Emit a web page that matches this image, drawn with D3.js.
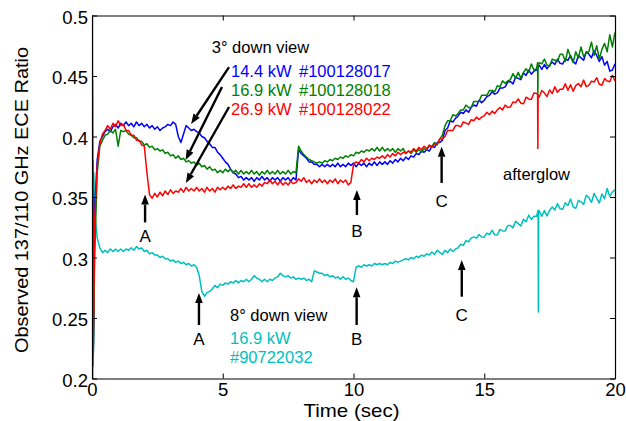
<!DOCTYPE html>
<html>
<head>
<meta charset="utf-8">
<script src="https://cdn.jsdelivr.net/npm/d3@7"></script>
<style>
html,body{margin:0;padding:0;background:#fff;}
svg{display:block;font-family:"Liberation Sans",Arial,Helvetica,sans-serif;}
</style>
</head>
<body>
<svg id="chart" width="626" height="421"></svg>
<script>
// ---------- DATA ----------
// shared time grid: 0.0 .. 20.0 s, every 0.1 s
const times = d3.range(0, 201).map(i => i / 10);

// 14.4 kW #100128017 (blue)
const blueVals = [
0.225,0.340,0.381,0.396,0.400,0.404,0.406,0.404,0.408,0.410,
0.407,0.411,0.409,0.412,0.409,0.411,0.408,0.412,0.409,0.411,
0.408,0.410,0.407,0.409,0.406,0.408,0.405,0.407,0.408,0.410,
0.409,0.412,0.410,0.400,0.395,0.402,0.409,0.407,0.405,0.406,
0.404,0.403,0.400,0.399,0.396,0.394,0.391,0.391,0.387,0.385,
0.382,0.379,0.377,0.373,0.370,0.369,0.366,0.367,0.364,0.366,
0.364,0.366,0.363,0.366,0.364,0.367,0.364,0.366,0.363,0.366,
0.364,0.366,0.363,0.366,0.364,0.366,0.363,0.366,0.364,0.389,
0.386,0.384,0.382,0.379,0.379,0.377,0.377,0.375,0.377,0.375,
0.377,0.375,0.377,0.375,0.378,0.375,0.377,0.375,0.378,0.376,
0.378,0.375,0.378,0.376,0.378,0.375,0.378,0.376,0.379,0.376,
0.379,0.377,0.379,0.377,0.380,0.378,0.381,0.379,0.382,0.380,
0.383,0.381,0.384,0.383,0.386,0.385,0.388,0.387,0.389,0.388,
0.392,0.391,0.395,0.395,0.397,0.405,0.407,0.413,0.412,0.415,
0.417,0.420,0.419,0.422,0.420,0.424,0.426,0.425,0.430,0.428,
0.430,0.433,0.434,0.437,0.435,0.436,0.440,0.440,0.441,0.445,
0.4455,0.4435,0.449,0.448,0.447,0.4525,0.4505,0.455,0.4515,0.454,
0.455,0.459,0.4555,0.4595,0.456,0.459,0.4615,0.4595,0.464,0.4605,
0.460,0.464,0.463,0.467,0.462,0.460,0.467,0.465,0.463,0.470,
0.468,0.465,0.471,0.467,0.462,0.466,0.459,0.462,0.454,0.455,
0.460];
const blueExtra = [[0.03,0.380],[0.05,0.220],[0.08,0.260]];

// 16.9 kW #100128018 (green)
const greenVals = [
0.215,0.300,0.370,0.392,0.397,0.401,0.402,0.405,0.403,0.406,
0.392,0.405,0.404,0.405,0.402,0.401,0.399,0.399,0.396,0.396,
0.393,0.394,0.391,0.392,0.389,0.390,0.388,0.389,0.386,0.387,
0.384,0.385,0.382,0.384,0.381,0.382,0.379,0.380,0.378,0.379,
0.376,0.378,0.375,0.376,0.373,0.375,0.372,0.373,0.370,0.372,
0.370,0.373,0.371,0.373,0.370,0.372,0.369,0.372,0.369,0.371,
0.369,0.372,0.369,0.371,0.368,0.371,0.369,0.372,0.369,0.371,
0.369,0.372,0.369,0.371,0.369,0.372,0.369,0.371,0.370,0.392,
0.388,0.385,0.383,0.381,0.380,0.379,0.378,0.379,0.378,0.380,
0.379,0.381,0.380,0.382,0.381,0.383,0.382,0.384,0.383,0.385,
0.384,0.387,0.386,0.388,0.387,0.389,0.388,0.390,0.388,0.391,
0.388,0.391,0.388,0.390,0.388,0.390,0.387,0.390,0.388,0.390,
0.386,0.388,0.386,0.389,0.387,0.389,0.387,0.390,0.389,0.392,
0.392,0.395,0.393,0.398,0.401,0.409,0.413,0.413,0.418,0.417,
0.419,0.422,0.422,0.426,0.424,0.424,0.429,0.429,0.429,0.434,
0.434,0.434,0.438,0.438,0.437,0.442,0.441,0.446,0.444,0.446,
0.447,0.452,0.448,0.453,0.448,0.453,0.456,0.453,0.460,0.455,
0.456,0.461,0.460,0.464,0.459,0.458,0.464,0.463,0.462,0.468,
0.468,0.462,0.472,0.466,0.461,0.470,0.465,0.474,0.466,0.469,
0.470,0.478,0.467,0.475,0.464,0.472,0.477,0.470,0.484,0.474,
0.486];
const greenExtra = [[0.015,0.500],[0.03,0.210],[0.06,0.230],[17.04,0.461],[17.05,0.433],[17.06,0.460]];

// 26.9 kW #100128022 (red)
const redVals = [
0.225,0.330,0.376,0.394,0.402,0.405,0.409,0.406,0.411,0.408,
0.413,0.409,0.410,0.405,0.405,0.401,0.401,0.397,0.397,0.393,
0.392,0.370,0.352,0.349,0.353,0.350,0.354,0.351,0.355,0.352,
0.356,0.353,0.355,0.354,0.357,0.354,0.358,0.355,0.357,0.355,
0.358,0.355,0.357,0.354,0.358,0.355,0.357,0.354,0.358,0.356,
0.358,0.356,0.359,0.357,0.360,0.357,0.359,0.358,0.361,0.358,
0.361,0.358,0.360,0.358,0.361,0.359,0.362,0.361,0.364,0.361,
0.363,0.360,0.363,0.360,0.362,0.360,0.363,0.361,0.362,0.365,
0.363,0.366,0.362,0.364,0.361,0.364,0.362,0.365,0.362,0.364,
0.361,0.364,0.362,0.365,0.361,0.364,0.362,0.364,0.360,0.362,
0.377,0.379,0.378,0.381,0.379,0.382,0.380,0.382,0.381,0.383,
0.382,0.384,0.382,0.385,0.383,0.386,0.384,0.387,0.385,0.387,
0.386,0.388,0.387,0.390,0.388,0.391,0.389,0.392,0.390,0.393,
0.391,0.394,0.394,0.398,0.398,0.400,0.405,0.405,0.405,0.409,
0.409,0.408,0.412,0.411,0.410,0.414,0.413,0.416,0.414,0.416,
0.417,0.420,0.418,0.421,0.419,0.422,0.424,0.422,0.426,0.424,
0.4245,0.4285,0.428,0.431,0.4275,0.427,0.4325,0.431,0.4305,0.436,
0.4355,0.4325,0.438,0.436,0.433,0.4385,0.4355,0.441,0.4365,0.439,
0.439,0.4436,0.4382,0.4428,0.4374,0.442,0.4438,0.4412,0.4466,0.4412,
0.4422,0.4458,0.445,0.4486,0.4432,0.4424,0.4478,0.446,0.4452,0.4506,
0.446];
const redExtra = [[0.02,0.446],[0.04,0.225],[0.07,0.260],[17.04,0.435],[17.05,0.390],[17.06,0.434]];

// 16.9 kW #90722032, 8° down view (cyan)
const cyanVals = [
0.215,0.337,0.316,0.308,0.304,0.306,0.304,0.307,0.305,0.307,
0.305,0.307,0.305,0.307,0.306,0.308,0.306,0.309,0.307,0.308,
0.305,0.306,0.303,0.304,0.302,0.302,0.300,0.301,0.299,0.299,
0.297,0.298,0.296,0.297,0.295,0.296,0.294,0.295,0.293,0.294,
0.292,0.285,0.272,0.268,0.271,0.272,0.274,0.277,0.275,0.278,
0.277,0.279,0.278,0.280,0.279,0.281,0.279,0.281,0.280,0.282,
0.280,0.282,0.285,0.283,0.282,0.280,0.282,0.280,0.282,0.281,
0.283,0.284,0.287,0.285,0.284,0.285,0.283,0.284,0.282,0.283,
0.282,0.283,0.281,0.282,0.280,0.289,0.288,0.287,0.287,0.285,
0.286,0.284,0.285,0.283,0.284,0.282,0.284,0.282,0.283,0.281,
0.280,0.292,0.293,0.292,0.294,0.293,0.294,0.293,0.295,0.294,
0.295,0.294,0.295,0.294,0.296,0.295,0.297,0.296,0.297,0.298,
0.299,0.298,0.300,0.299,0.301,0.300,0.302,0.301,0.303,0.302,
0.3045,0.3025,0.306,0.304,0.3025,0.306,0.304,0.307,0.305,0.307,
0.308,0.311,0.310,0.314,0.313,0.316,0.317,0.316,0.319,0.317,
0.3168,0.3202,0.319,0.3224,0.3188,0.3186,0.3232,0.322,0.3218,0.3264,
0.3265,0.3245,0.330,0.328,0.326,0.3315,0.3295,0.335,0.3315,0.334,
0.334,0.3386,0.3342,0.3388,0.3344,0.339,0.3418,0.3392,0.3446,0.3402,
0.3398,0.3452,0.343,0.3484,0.3418,0.3406,0.3472,0.346,0.3438,0.3514,
0.3495,0.3455,0.353,0.349,0.345,0.3525,0.3485,0.357,0.3505,0.354,
0.356];
const cyanExtra = [[0.01,0.399],[0.03,0.200],[0.05,0.310],[0.07,0.370],[17.06,0.339],[17.07,0.255],[17.08,0.338]];

const xTicks = [0, 5, 10, 15, 20];
const yTicks = [0.2, 0.25, 0.3, 0.35, 0.4, 0.45, 0.5];
const xTickLabels = ["0", "5", "10", "15", "20"];
const yTickLabels = ["0.2", "0.25", "0.3", "0.35", "0.4", "0.45", "0.5"];

// ---------- LAYOUT / STYLE ----------
const col = {blue:"#0000ff", green:"#008000", red:"#ff0000", cyan:"#00bfbf"};
const series = [
  {vals: cyanVals,  extra: cyanExtra,  color: col.cyan},
  {vals: blueVals,  extra: blueExtra,  color: col.blue},
  {vals: greenVals, extra: greenExtra, color: col.green},
  {vals: redVals,   extra: redExtra,   color: col.red}
];

const svg = d3.select("#chart");
const L = 92, R = 615, T = 15.5, B = 378.5;
const x = d3.scaleLinear().domain([0, 20]).range([L, R]);
const y = d3.scaleLinear().domain([0.2, 0.5]).range([B, T]);

svg.append("defs").append("clipPath").attr("id", "clip")
  .append("rect").attr("x", L).attr("y", T).attr("width", R - L).attr("height", B - T);

const line = d3.line().x(d => x(d[0])).y(d => y(d[1]));
const plot = svg.append("g").attr("clip-path", "url(#clip)");
series.forEach(s => {
  const pts = times.map((t, i) => [t, s.vals[i]]).concat(s.extra).sort((a, b) => a[0] - b[0]);
  plot.append("path").datum(pts).attr("d", line)
    .attr("fill", "none").attr("stroke", s.color).attr("stroke-width", 1.5)
    .attr("stroke-linejoin", "round");
});

// axes (inward ticks, box)
function styleAxis(g) {
  g.selectAll(".domain").attr("stroke", "#000").attr("stroke-width", 1.2);
  g.selectAll(".tick line").attr("stroke", "#000").attr("stroke-width", 1);
  g.selectAll("text").attr("fill", "#000").style("font-size", "18.5px")
    .style("font-family", '"Liberation Sans",Arial,sans-serif');
}
svg.append("g").attr("transform", `translate(0,${B})`)
  .call(d3.axisBottom(x).tickValues(xTicks).tickFormat((d, i) => xTickLabels[i])
    .tickSizeInner(-5).tickSizeOuter(0).tickPadding(4.5)).call(styleAxis);
svg.append("g").attr("transform", `translate(0,${T})`)
  .call(d3.axisTop(x).tickValues(xTicks).tickFormat("")
    .tickSizeInner(-5).tickSizeOuter(0)).call(styleAxis);
const yl = svg.append("g").attr("transform", `translate(${L},0)`)
  .call(d3.axisLeft(y).tickValues(yTicks).tickFormat((d, i) => yTickLabels[i])
    .tickSizeInner(-5).tickSizeOuter(0).tickPadding(4)).call(styleAxis);
yl.selectAll("text").attr("dy", "0.42em");
svg.append("g").attr("transform", `translate(${R},0)`)
  .call(d3.axisRight(y).tickValues(yTicks).tickFormat("")
    .tickSizeInner(-5).tickSizeOuter(0)).call(styleAxis);

// axis titles
svg.append("text").attr("x", 351.5).attr("y", 417).attr("text-anchor", "middle")
  .style("font-size", "18.5px").attr("textLength", 96).attr("lengthAdjust", "spacingAndGlyphs")
  .text("Time (sec)");
svg.append("text").attr("transform", "translate(28,200) rotate(-90)").attr("text-anchor", "middle")
  .style("font-size", "19px").attr("textLength", 306).attr("lengthAdjust", "spacingAndGlyphs")
  .text("Observed 137/110 GHz ECE Ratio");

// ---------- ANNOTATIONS (data coordinates) ----------
const labels = [
  {t: 4.58,  v: 0.4688, text: "3° down view", color: "#000"},
  {t: 5.315, v: 0.4489, text: "14.4 kW", color: col.blue},
  {t: 7.916, v: 0.4489, text: "#100128017", color: col.blue},
  {t: 5.315, v: 0.4337, text: "16.9 kW", color: col.green},
  {t: 7.916, v: 0.4337, text: "#100128018", color: col.green},
  {t: 5.315, v: 0.4178, text: "26.9 kW", color: col.red},
  {t: 7.916, v: 0.4178, text: "#100128022", color: col.red},
  {t: 15.72, v: 0.364,  text: "afterglow", color: "#000"},
  {t: 5.277, v: 0.2478, text: "8° down view", color: "#000"},
  {t: 5.277, v: 0.2289, text: "16.9 kW", color: col.cyan},
  {t: 5.277, v: 0.2124, text: "#90722032", color: col.cyan}
];
svg.append("g").selectAll("text").data(labels).join("text")
  .attr("x", d => x(d.t)).attr("y", d => y(d.v))
  .attr("fill", d => d.color).style("font-size", "16.5px").text(d => d.text);

// arrows: from (t0,v0) to tip (t1,v1)
const arrows = [
  {t0: 5.24, v0: 0.4574, t1: 3.79, v1: 0.4103},
  {t0: 4.97, v0: 0.4409, t1: 3.58, v1: 0.3806},
  {t0: 5.24, v0: 0.4244, t1: 3.59, v1: 0.3616},
  {t0: 2.03, v0: 0.329,  t1: 2.03, v1: 0.352, label: "A", lv: 0.3128},
  {t0: 10.13, v0: 0.3351, t1: 10.13, v1: 0.3558, label: "B", lv: 0.317},
  {t0: 13.37, v0: 0.3616, t1: 13.37, v1: 0.3916, label: "C", lv: 0.3417},
  {t0: 4.09, v0: 0.2442, t1: 4.09, v1: 0.2707, label: "A", lv: 0.2277},
  {t0: 10.12, v0: 0.2442, t1: 10.12, v1: 0.2754, label: "B", lv: 0.2277},
  {t0: 14.14, v0: 0.2676, t1: 14.14, v1: 0.2979, label: "C", lv: 0.2475}
];
const ag = svg.append("g");
arrows.forEach(a => {
  const x0 = x(a.t0), y0 = y(a.v0), x1 = x(a.t1), y1 = y(a.v1);
  const ang = Math.atan2(y1 - y0, x1 - x0);
  const hl = 10, hw = 3.8;
  const bx = x1 - hl * Math.cos(ang), by = y1 - hl * Math.sin(ang);
  ag.append("line").attr("x1", x0).attr("y1", y0).attr("x2", bx).attr("y2", by)
    .attr("stroke", "#000").attr("stroke-width", 2.4);
  const px = -Math.sin(ang), py = Math.cos(ang);
  ag.append("polygon")
    .attr("points", [[x1, y1], [bx + hw * px, by + hw * py], [bx - hw * px, by - hw * py]].map(p => p.join(",")).join(" "))
    .attr("fill", "#000");
  if (a.label) {
    ag.append("text").attr("x", x1).attr("y", y(a.lv)).attr("text-anchor", "middle")
      .style("font-size", "17px").text(a.label);
  }
});
</script>
</body>
</html>
